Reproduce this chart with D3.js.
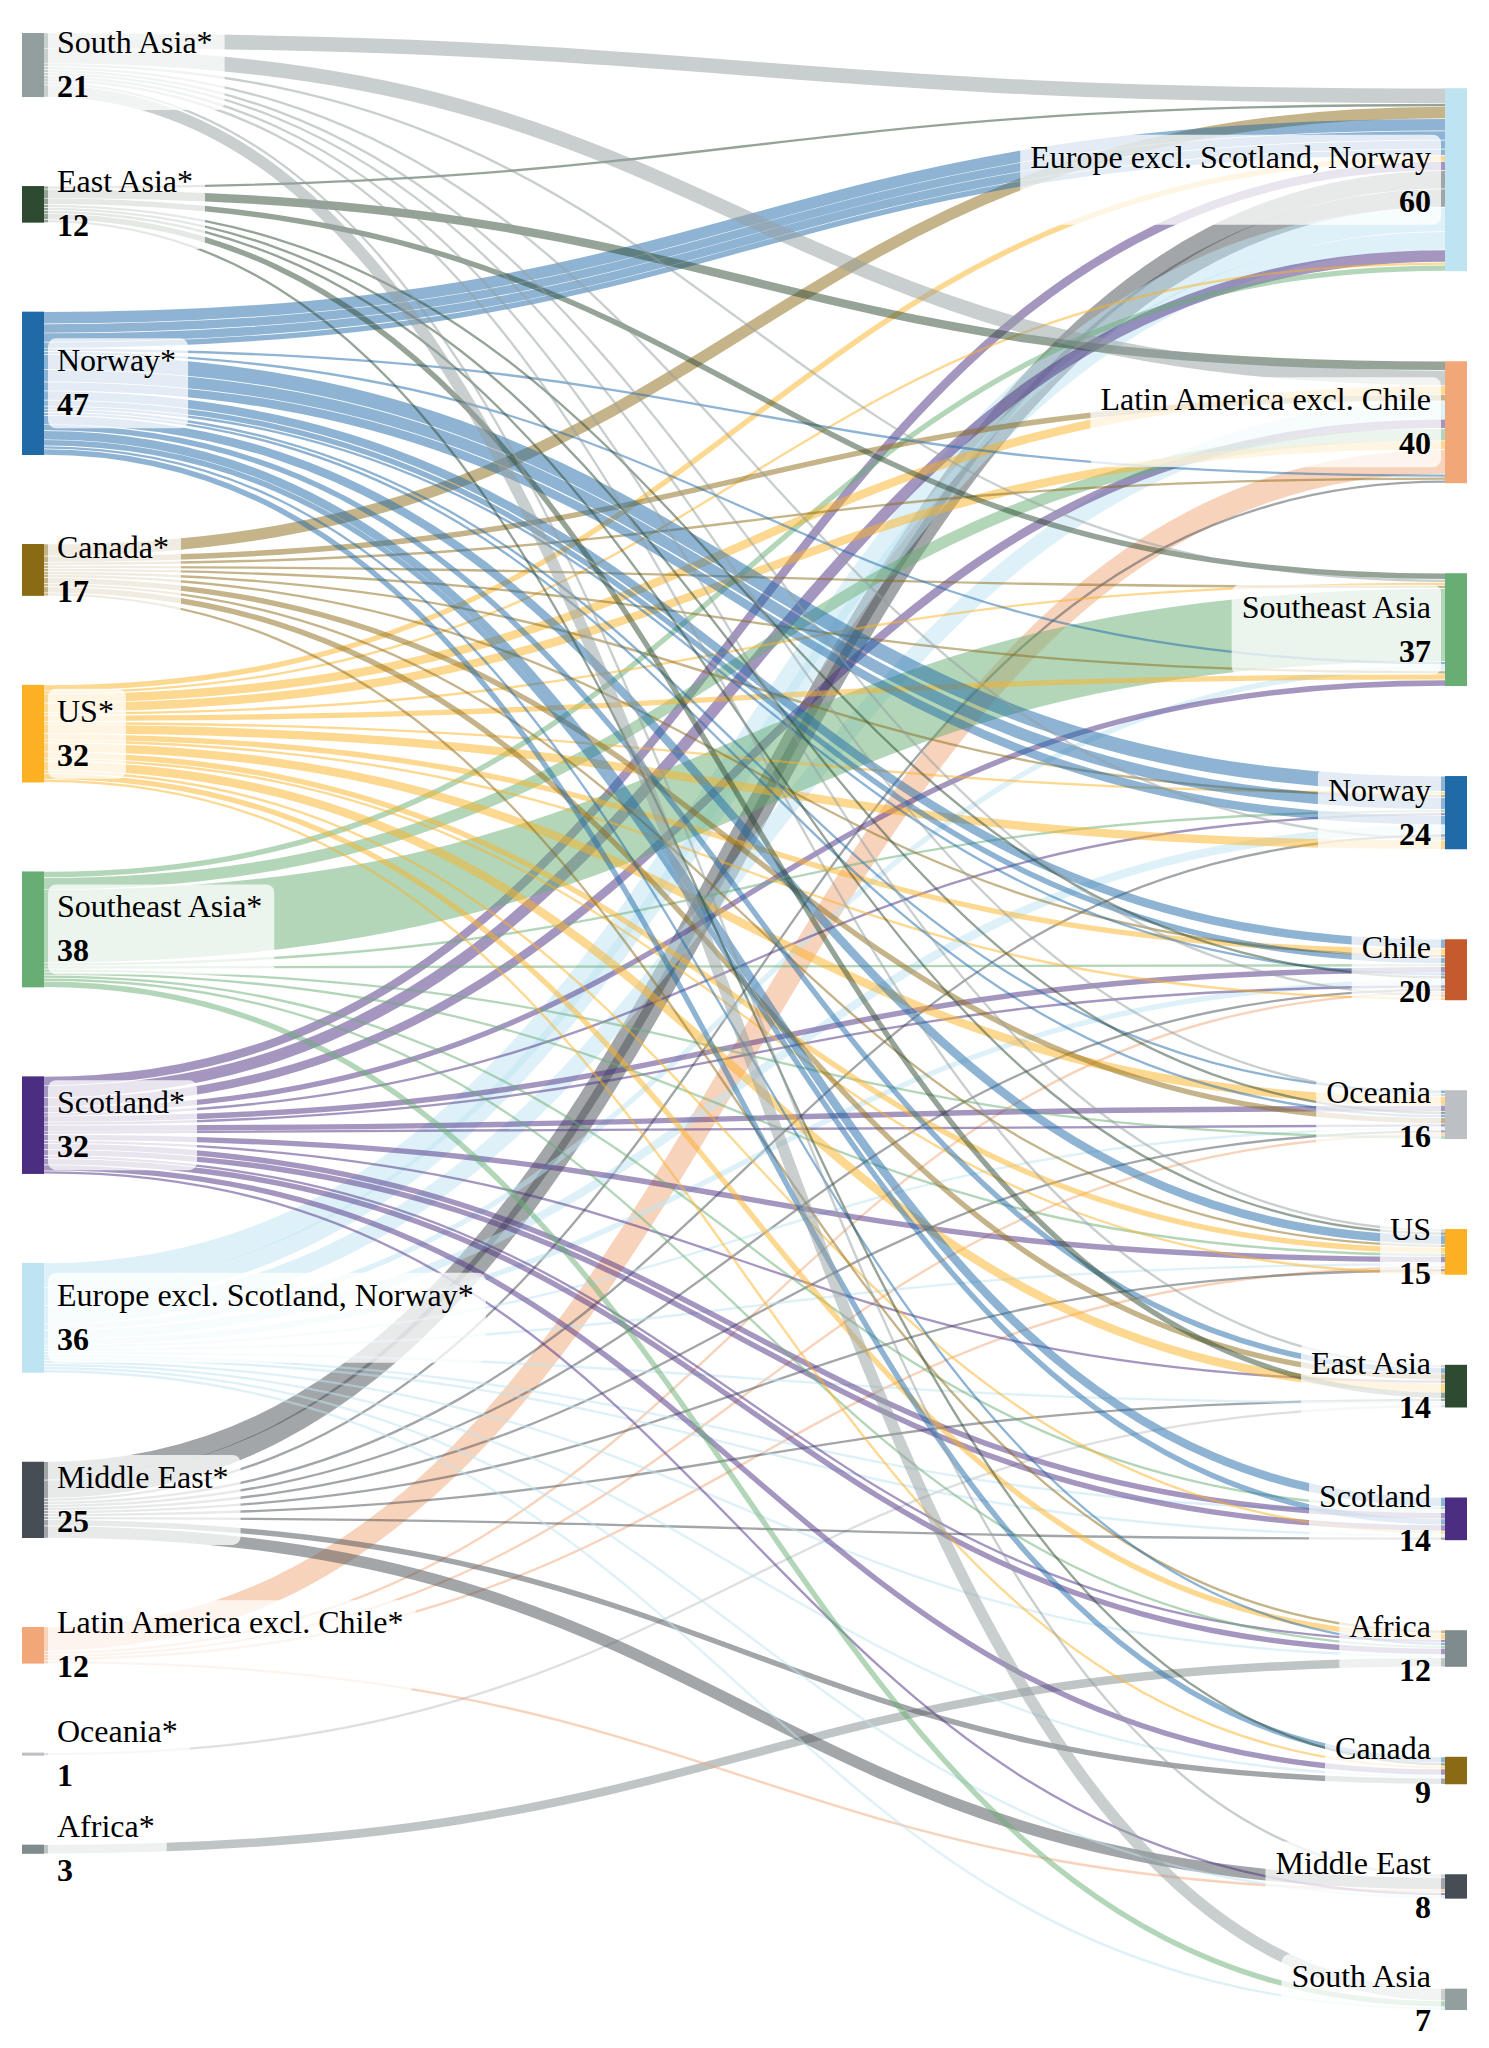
<!DOCTYPE html>
<html>
<head>
<meta charset="utf-8">
<script src="https://cdn.jsdelivr.net/npm/d3@7"></script>
<style>
  html, body { margin: 0; padding: 0; background: #ffffff; }
  svg { display: block; }
</style>
</head>
<body>
<svg id="chart" width="1489" height="2048"></svg>
<script>
// ---------------- DATA ----------------
const regionCodes  = ["EU", "LA", "SEA", "NO", "CL", "OC", "US", "EA", "SC", "AF", "CA", "ME", "SA"];
const regionNames  = ["Europe excl. Scotland, Norway", "Latin America excl. Chile", "Southeast Asia", "Norway", "Chile",
                      "Oceania", "US", "East Asia", "Scotland", "Africa", "Canada", "Middle East", "South Asia"];
const regionColors = ["#bee4f2", "#f2a779", "#68ad74", "#1f6aa7", "#c55a2c",
                      "#bcbfc3", "#fbb123", "#2e4a31", "#4b2e82", "#7f8b8c", "#8b6a15", "#474d54", "#939e9f"];

// order of the origin column (left, marked with *) and destination column (right)
const sourceOrder = ["SA", "EA", "NO", "CA", "US", "SEA", "SC", "EU", "ME", "LA", "OC", "AF"];
const targetOrder = ["EU", "LA", "SEA", "NO", "CL", "OC", "US", "EA", "SC", "AF", "CA", "ME", "SA"];

// links: [origin, destination, count], grouped by destination in the order the strands arrive
const links = [
  ["SA","EU",5],["EA","EU",1],["CA","EU",4],["NO","EU",4],["NO","EU",3],["NO","EU",3],["NO","EU",2],
  ["US","EU",2],["SC","EU",3],["ME","EU",6],["ME","EU",6],["EU","EU",8],["EU","EU",6],["SC","EU",4],
  ["US","EU",1],["SEA","EU",2],

  ["EA","LA",3],["SA","LA",5],["US","LA",3],["CA","LA",2],["EU","LA",6],["SC","LA",3],["SEA","LA",4],
  ["US","LA",3],["LA","LA",8],["NO","LA",1],["CA","LA",1],["ME","LA",1],

  ["EA","SEA",2],["SA","SEA",1],["US","SEA",1],["CA","SEA",1],["SEA","SEA",24],["NO","SEA",1],
  ["EU","SEA",2],["CA","SEA",1],["US","SEA",2],["SC","SEA",2],

  ["NO","NO",5],["US","NO",1],["CA","NO",1],["NO","NO",4],["SEA","NO",1],["SC","NO",1],["NO","NO",3],
  ["EU","NO",3],["ME","NO",1],["SA","NO",1],["US","NO",3],

  ["NO","CL",3],["US","CL",2],["CA","CL",1],["NO","CL",2],["SEA","CL",1],["SC","CL",2],["NO","CL",1],
  ["EA","CL",1],["EU","CL",2],["SC","CL",1],["ME","CL",1],["LA","CL",1],["SA","CL",1],["US","CL",1],

  ["NO","OC",1],["SA","OC",1],["US","OC",3],["SC","OC",2],["EA","OC",1],["NO","OC",1],["CA","OC",2],
  ["SC","OC",1],["EU","OC",1],["ME","OC",1],["LA","OC",1],["SEA","OC",1],

  ["SA","US",1],["EA","US",1],["NO","US",3],["CA","US",1],["US","US",2],["SEA","US",1],["SC","US",2],
  ["EU","US",1],["LA","US",1],["ME","US",1],["US","US",1],

  ["SA","EA",1],["NO","EA",2],["CA","EA",2],["SC","EA",1],["US","EA",3],["EA","EA",2],["ME","EA",1],
  ["EU","EA",1],["OC","EA",1],

  ["NO","SC",3],["SEA","SC",1],["EU","SC",1],["SC","SC",2],["NO","SC",2],["SC","SC",2],["US","SC",1],
  ["EU","SC",1],["ME","SC",1],

  ["CA","AF",1],["US","AF",2],["SC","AF",1],["NO","AF",1],["SEA","AF",1],["SC","AF",2],["EU","AF",1],
  ["AF","AF",3],

  ["NO","CA",2],["EA","CA",1],["US","CA",1],["SC","CA",2],["EU","CA",1],["ME","CA",2],

  ["SA","ME",1],["ME","ME",4],["LA","ME",1],["SC","ME",1],["EU","ME",1],

  ["SA","SA",4],["SEA","SA",2],["EU","SA",1]
];

// ---------------- LAYOUT ----------------
const W = 1489, H = 2048;
const nodeWidth = 22;
const leftTop = 33;        // origin column starts here
const rightBottom = 2010;  // destination column ends here
const leftPad = 89, rightPad = 90;

const nameOf  = c => regionNames[regionCodes.indexOf(c)];
const colorOf = c => regionColors[regionCodes.indexOf(c)];

const xCol = d3.scalePoint().domain(["origin", "destination"]).range([22, W - 22 - nodeWidth]);
const ky = d3.scaleLinear().domain([0, 1]).range([0, 3.05]);

const srcTotals = d3.rollup(links, v => d3.sum(v, d => d[2]), d => d[0]);
const tgtTotals = d3.rollup(links, v => d3.sum(v, d => d[2]), d => d[1]);
const grandTotal = d3.sum(links, d => d[2]);

function buildColumn(order, totals, side, start, pad, fromBottom) {
  const nodes = order.map(code => ({ code, side, value: totals.get(code) || 0 }));
  const span = ky(grandTotal) + pad * (nodes.length - 1);
  let y = fromBottom ? start - span : start;
  const x0 = xCol(side);
  nodes.forEach(n => {
    n.x0 = x0; n.x1 = x0 + nodeWidth;
    n.y0 = y; n.y1 = y + ky(n.value);
    n.offset = n.y0;
    y = n.y1 + pad;
  });
  return nodes;
}
const leftNodes  = buildColumn(sourceOrder, srcTotals, "origin", leftTop, leftPad, false);
const rightNodes = buildColumn(targetOrder, tgtTotals, "destination", rightBottom, rightPad, true);
const leftBy  = new Map(leftNodes.map(n => [n.code, n]));
const rightBy = new Map(rightNodes.map(n => [n.code, n]));

const linkData = links.map(([s, t, v]) => {
  const sn = leftBy.get(s), tn = rightBy.get(t);
  const w = ky(v);
  const sy = sn.offset + w / 2; sn.offset += w;
  const ty = tn.offset + w / 2; tn.offset += w;
  return { s, t, v, w, source: [sn.x1, sy], target: [tn.x0, ty] };
});

// ---------------- DRAW ----------------
const svg = d3.select("#chart");
svg.append("rect").attr("width", W).attr("height", H).attr("fill", "#ffffff");

const linkGen = d3.linkHorizontal();
svg.append("g").attr("fill", "none")
  .selectAll("path").data(linkData).join("path")
  .attr("d", d => linkGen(d))
  .attr("stroke", d => colorOf(d.s))
  .attr("stroke-opacity", 0.5)
  .attr("stroke-width", d => Math.max(1.4, d.w - 0.7));

const allNodes = leftNodes.concat(rightNodes);
svg.append("g").selectAll("rect").data(allNodes).join("rect")
  .attr("x", d => d.x0).attr("y", d => d.y0)
  .attr("width", d => d.x1 - d.x0).attr("height", d => Math.max(1.5, d.y1 - d.y0))
  .attr("fill", d => colorOf(d.code));

const fontFamily = "'Liberation Serif', 'Times New Roman', Times, serif";
const labelG = svg.append("g");
allNodes.forEach(n => {
  const g = labelG.append("g");
  const cy = (n.y0 + n.y1) / 2;
  const left = n.side === "origin";
  const tx = left ? n.x1 + 13 : n.x0 - 14;
  const box = g.append("rect").attr("fill", "#ffffff").attr("fill-opacity", 0.75).attr("rx", 8).attr("ry", 8);
  const t1 = g.append("text")
    .attr("x", tx).attr("y", cy - 12)
    .attr("text-anchor", left ? "start" : "end")
    .attr("font-family", fontFamily).attr("font-size", 32).attr("fill", "#000")
    .text(nameOf(n.code) + (left ? "*" : ""));
  const t2 = g.append("text")
    .attr("x", tx).attr("y", cy + 32)
    .attr("text-anchor", left ? "start" : "end")
    .attr("font-family", fontFamily).attr("font-size", 32).attr("font-weight", "bold").attr("fill", "#000")
    .text(n.value);
  const w = Math.max(t1.node().getComputedTextLength(), t2.node().getComputedTextLength());
  if (left) {
    box.attr("x", n.x1 + 4).attr("width", w + 9 + 12);
  } else {
    box.attr("x", tx - w - 10).attr("width", w + 10 + 10);
  }
  box.attr("y", cy - 45).attr("height", 90);
});
</script>
</body>
</html>
